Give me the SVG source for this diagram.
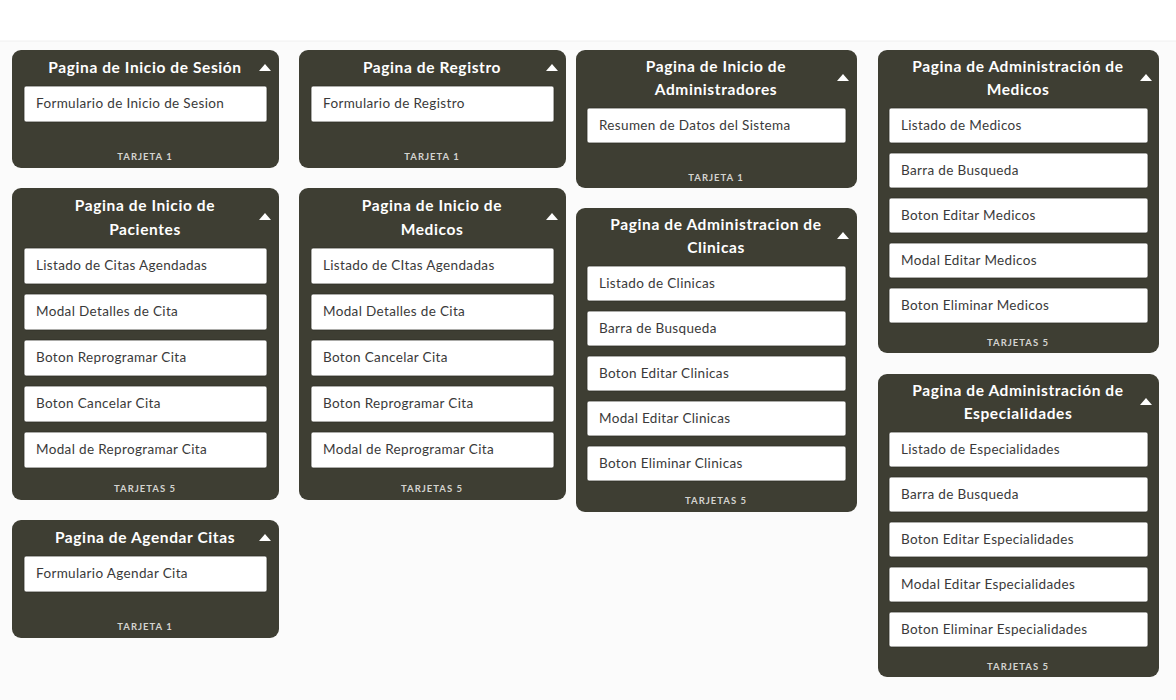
<svg xmlns="http://www.w3.org/2000/svg" width="1176" height="700" viewBox="0 0 1176 700">
<defs>
<style>
.card{fill:#3e3e33}
.item{fill:#ffffff;stroke:#2e2e26;stroke-width:0.8}
.t{font-family:Lato,"Open Sans",sans-serif;font-weight:700;font-size:15.5px;letter-spacing:0.6px;fill:#ffffff;text-anchor:middle}
.i{font-family:Lato,"Open Sans",sans-serif;font-size:13.5px;letter-spacing:0.35px;fill:#3a3a3a}
.f{font-family:Lato,"Open Sans",sans-serif;font-weight:700;font-size:9.5px;fill:#d4d4d0;text-anchor:middle;letter-spacing:1px}
.tri{fill:#ffffff}
</style>
</defs>
<rect x="0" y="0" width="1176" height="700" fill="#ffffff"/>
<rect x="0" y="41" width="1176" height="659" fill="#fbfbfb"/>
<line x1="0" y1="41" x2="1176" y2="41" stroke="#f0f0f0" stroke-width="1"/>

<!-- Column 1 -->
<g id="card-inicio-sesion">
<rect class="card" x="12" y="50" width="267" height="118" rx="9"/>
<text class="t" x="145" y="73">Pagina de Inicio de Sesión</text>
<path class="tri" d="M259 71 L271 71 L265 64 Z"/>
<rect class="item" x="24" y="86" width="243" height="36" rx="2"/>
<text class="i" x="36" y="108">Formulario de Inicio de Sesion</text>
<text class="f" x="145" y="160">TARJETA 1</text>
</g>

<g id="card-inicio-pacientes">
<rect class="card" x="12" y="188" width="267" height="312" rx="9"/>
<text class="t" x="145" y="211">Pagina de Inicio de</text>
<text class="t" x="145" y="235">Pacientes</text>
<path class="tri" d="M259 220 L271 220 L265 213 Z"/>
<rect class="item" x="24" y="248" width="243" height="36" rx="2"/>
<text class="i" x="36" y="270">Listado de Citas Agendadas</text>
<rect class="item" x="24" y="294" width="243" height="36" rx="2"/>
<text class="i" x="36" y="316">Modal Detalles de Cita</text>
<rect class="item" x="24" y="340" width="243" height="36" rx="2"/>
<text class="i" x="36" y="362">Boton Reprogramar Cita</text>
<rect class="item" x="24" y="386" width="243" height="36" rx="2"/>
<text class="i" x="36" y="408">Boton Cancelar Cita</text>
<rect class="item" x="24" y="432" width="243" height="36" rx="2"/>
<text class="i" x="36" y="454">Modal de Reprogramar Cita</text>
<text class="f" x="145" y="492">TARJETAS 5</text>
</g>

<g id="card-agendar-citas">
<rect class="card" x="12" y="520" width="267" height="118" rx="9"/>
<text class="t" x="145" y="543">Pagina de Agendar Citas</text>
<path class="tri" d="M259 541 L271 541 L265 534 Z"/>
<rect class="item" x="24" y="556" width="243" height="36" rx="2"/>
<text class="i" x="36" y="578">Formulario Agendar Cita</text>
<text class="f" x="145" y="630">TARJETA 1</text>
</g>

<!-- Column 2 -->
<g id="card-registro">
<rect class="card" x="299" y="50" width="267" height="118" rx="9"/>
<text class="t" x="432" y="73">Pagina de Registro</text>
<path class="tri" d="M546 71 L558 71 L552 64 Z"/>
<rect class="item" x="311" y="86" width="243" height="36" rx="2"/>
<text class="i" x="323" y="108">Formulario de Registro</text>
<text class="f" x="432" y="160">TARJETA 1</text>
</g>

<g id="card-inicio-medicos">
<rect class="card" x="299" y="188" width="267" height="312" rx="9"/>
<text class="t" x="432" y="211">Pagina de Inicio de</text>
<text class="t" x="432" y="235">Medicos</text>
<path class="tri" d="M546 220 L558 220 L552 213 Z"/>
<rect class="item" x="311" y="248" width="243" height="36" rx="2"/>
<text class="i" x="323" y="270">Listado de CItas Agendadas</text>
<rect class="item" x="311" y="294" width="243" height="36" rx="2"/>
<text class="i" x="323" y="316">Modal Detalles de Cita</text>
<rect class="item" x="311" y="340" width="243" height="36" rx="2"/>
<text class="i" x="323" y="362">Boton Cancelar Cita</text>
<rect class="item" x="311" y="386" width="243" height="36" rx="2"/>
<text class="i" x="323" y="408">Boton Reprogramar Cita</text>
<rect class="item" x="311" y="432" width="243" height="36" rx="2"/>
<text class="i" x="323" y="454">Modal de Reprogramar Cita</text>
<text class="f" x="432" y="492">TARJETAS 5</text>
</g>

<!-- Column 3 -->
<g id="card-inicio-administradores">
<rect class="card" x="576" y="50" width="281" height="138" rx="9"/>
<text class="t" x="716" y="72">Pagina de Inicio de</text>
<text class="t" x="716" y="95">Administradores</text>
<path class="tri" d="M837 81 L849 81 L843 74 Z"/>
<rect class="item" x="587" y="108" width="259" height="35" rx="2"/>
<text class="i" x="599" y="130">Resumen de Datos del Sistema</text>
<text class="f" x="716" y="181">TARJETA 1</text>
</g>

<g id="card-admin-clinicas">
<rect class="card" x="576" y="208" width="281" height="304" rx="9"/>
<text class="t" x="716" y="230">Pagina de Administracion de</text>
<text class="t" x="716" y="253">Clinicas</text>
<path class="tri" d="M837 239 L849 239 L843 232 Z"/>
<rect class="item" x="587" y="266" width="259" height="35" rx="2"/>
<text class="i" x="599" y="288">Listado de Clinicas</text>
<rect class="item" x="587" y="311" width="259" height="35" rx="2"/>
<text class="i" x="599" y="333">Barra de Busqueda</text>
<rect class="item" x="587" y="356" width="259" height="35" rx="2"/>
<text class="i" x="599" y="378">Boton Editar Clinicas</text>
<rect class="item" x="587" y="401" width="259" height="35" rx="2"/>
<text class="i" x="599" y="423">Modal Editar Clinicas</text>
<rect class="item" x="587" y="446" width="259" height="35" rx="2"/>
<text class="i" x="599" y="468">Boton Eliminar Clinicas</text>
<text class="f" x="716" y="504">TARJETAS 5</text>
</g>

<!-- Column 4 -->
<g id="card-admin-medicos">
<rect class="card" x="878" y="50" width="281" height="303" rx="9"/>
<text class="t" x="1018" y="72">Pagina de Administración de</text>
<text class="t" x="1018" y="95">Medicos</text>
<path class="tri" d="M1140 81 L1152 81 L1146 74 Z"/>
<rect class="item" x="889" y="108" width="259" height="35" rx="2"/>
<text class="i" x="901" y="130">Listado de Medicos</text>
<rect class="item" x="889" y="153" width="259" height="35" rx="2"/>
<text class="i" x="901" y="175">Barra de Busqueda</text>
<rect class="item" x="889" y="198" width="259" height="35" rx="2"/>
<text class="i" x="901" y="220">Boton Editar Medicos</text>
<rect class="item" x="889" y="243" width="259" height="35" rx="2"/>
<text class="i" x="901" y="265">Modal Editar Medicos</text>
<rect class="item" x="889" y="288" width="259" height="35" rx="2"/>
<text class="i" x="901" y="310">Boton Eliminar Medicos</text>
<text class="f" x="1018" y="346">TARJETAS 5</text>
</g>

<g id="card-admin-especialidades">
<rect class="card" x="878" y="374" width="281" height="303" rx="9"/>
<text class="t" x="1018" y="396">Pagina de Administración de</text>
<text class="t" x="1018" y="419">Especialidades</text>
<path class="tri" d="M1140 405 L1152 405 L1146 398 Z"/>
<rect class="item" x="889" y="432" width="259" height="35" rx="2"/>
<text class="i" x="901" y="454">Listado de Especialidades</text>
<rect class="item" x="889" y="477" width="259" height="35" rx="2"/>
<text class="i" x="901" y="499">Barra de Busqueda</text>
<rect class="item" x="889" y="522" width="259" height="35" rx="2"/>
<text class="i" x="901" y="544">Boton Editar Especialidades</text>
<rect class="item" x="889" y="567" width="259" height="35" rx="2"/>
<text class="i" x="901" y="589">Modal Editar Especialidades</text>
<rect class="item" x="889" y="612" width="259" height="35" rx="2"/>
<text class="i" x="901" y="634">Boton Eliminar Especialidades</text>
<text class="f" x="1018" y="670">TARJETAS 5</text>
</g>

<g id="connectors"></g>
</svg>
